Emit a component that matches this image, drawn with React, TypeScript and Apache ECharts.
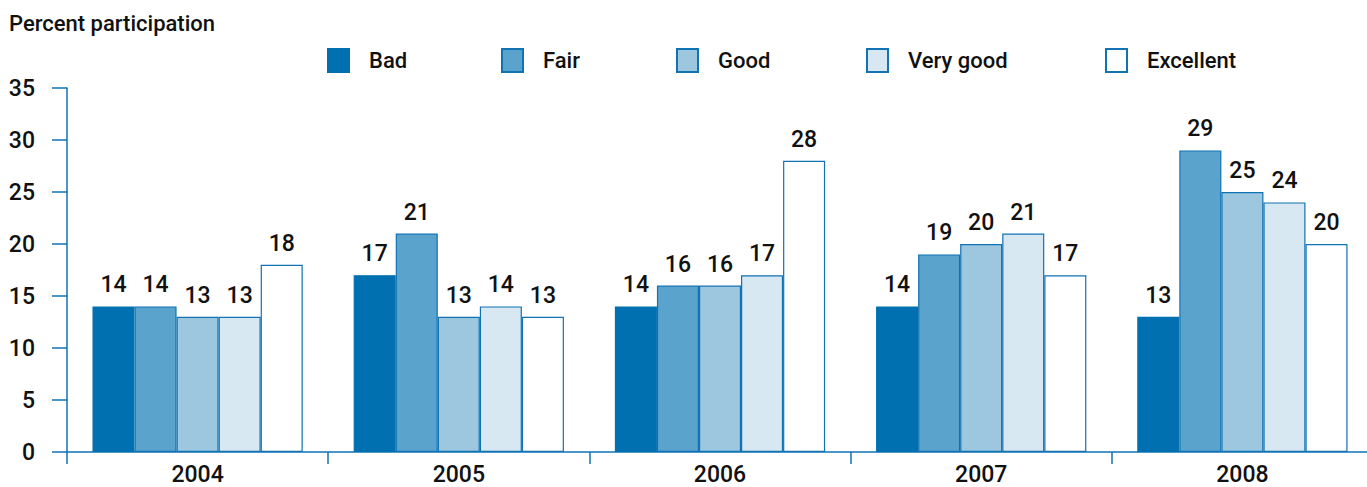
import React, { useEffect, useRef } from "react";
import * as echarts from "echarts";

const years = ["2004", "2005", "2006", "2007", "2008"];
const seriesNames = ["Bad", "Fair", "Good", "Very good", "Excellent"];
const bad = [14, 17, 14, 14, 13];
const fair = [14, 21, 16, 19, 29];
const good = [13, 13, 16, 20, 25];
const veryGood = [13, 14, 17, 21, 24];
const excellent = [18, 13, 28, 17, 20];
const yTicks = [0, 5, 10, 15, 20, 25, 30, 35];

const FONT = "'Roboto', 'Liberation Sans', sans-serif";
const AXIS = "#1172b4";
const colors = ["#0070b0", "#5aa3cc", "#9cc7df", "#d8e8f2", "#ffffff"];
const legendLeft = [327, 501, 676, 866, 1105];

export default function App() {
  const ref = useRef<HTMLDivElement>(null);
  useEffect(() => {
    if (!ref.current) return;
    const chart = echarts.init(ref.current, undefined, { renderer: "svg" });
    const values = [bad, fair, good, veryGood, excellent];
    chart.setOption({
      animation: false,
      textStyle: { fontFamily: FONT },
      title: {
        text: "Percent participation",
        left: 4,
        top: 7,
        textStyle: { fontFamily: FONT, fontSize: 22, fontWeight: 500, color: "#111" },
      },
      legend: seriesNames.map((n, i) => ({
        data: [{ name: n, icon: "rect" }],
        left: legendLeft[i] - 5,
        top: 43,
        itemWidth: 21,
        itemHeight: 23,
        textStyle: { fontFamily: FONT, fontSize: 22, fontWeight: 500, color: "#111", padding: [0, 0, 0, 15] },
        selectedMode: false,
      })),
      grid: { left: 67, right: 0, top: 88, bottom: 35 },
      xAxis: {
        type: "category",
        data: years,
        axisLine: { lineStyle: { color: AXIS, width: 1.5 } },
        axisTick: { show: true, length: 12, lineStyle: { color: AXIS, width: 1.5 } },
        axisLabel: { fontFamily: FONT, fontSize: 23, fontWeight: 500, color: "#111", margin: 11 },
      },
      yAxis: {
        type: "value",
        min: 0,
        max: 35,
        interval: 5,
        axisLine: { show: true, lineStyle: { color: AXIS, width: 1.5 } },
        axisTick: { show: true, length: 15, lineStyle: { color: AXIS, width: 1.5 } },
        splitLine: { show: false },
        axisLabel: {
          fontFamily: FONT,
          fontSize: 23,
          fontWeight: 500,
          color: "#111",
          margin: 32,
          formatter: (v: number) => (yTicks.includes(v) ? String(v) : ""),
        },
      },
      series: seriesNames.map((n, i) => ({
        name: n,
        type: "bar",
        data: values[i],
        barGap: "0%",
        barCategoryGap: "19.5%",
        itemStyle: { color: colors[i], borderColor: i === 0 ? colors[0] : AXIS, borderWidth: 1.2 },
        label: {
          show: true,
          position: "top",
          distance: 10,
          fontFamily: FONT,
          fontSize: 23,
          fontWeight: 500,
          color: "#111",
        },
      })),
    });
    return () => chart.dispose();
  }, []);
  return (
    <div style={{ position: "absolute", left: 0, top: 0, width: 1367, height: 487, overflow: "hidden", background: "#fff" }}>
      <div ref={ref} style={{ width: 1373, height: 487 }} />
    </div>
  );
}
